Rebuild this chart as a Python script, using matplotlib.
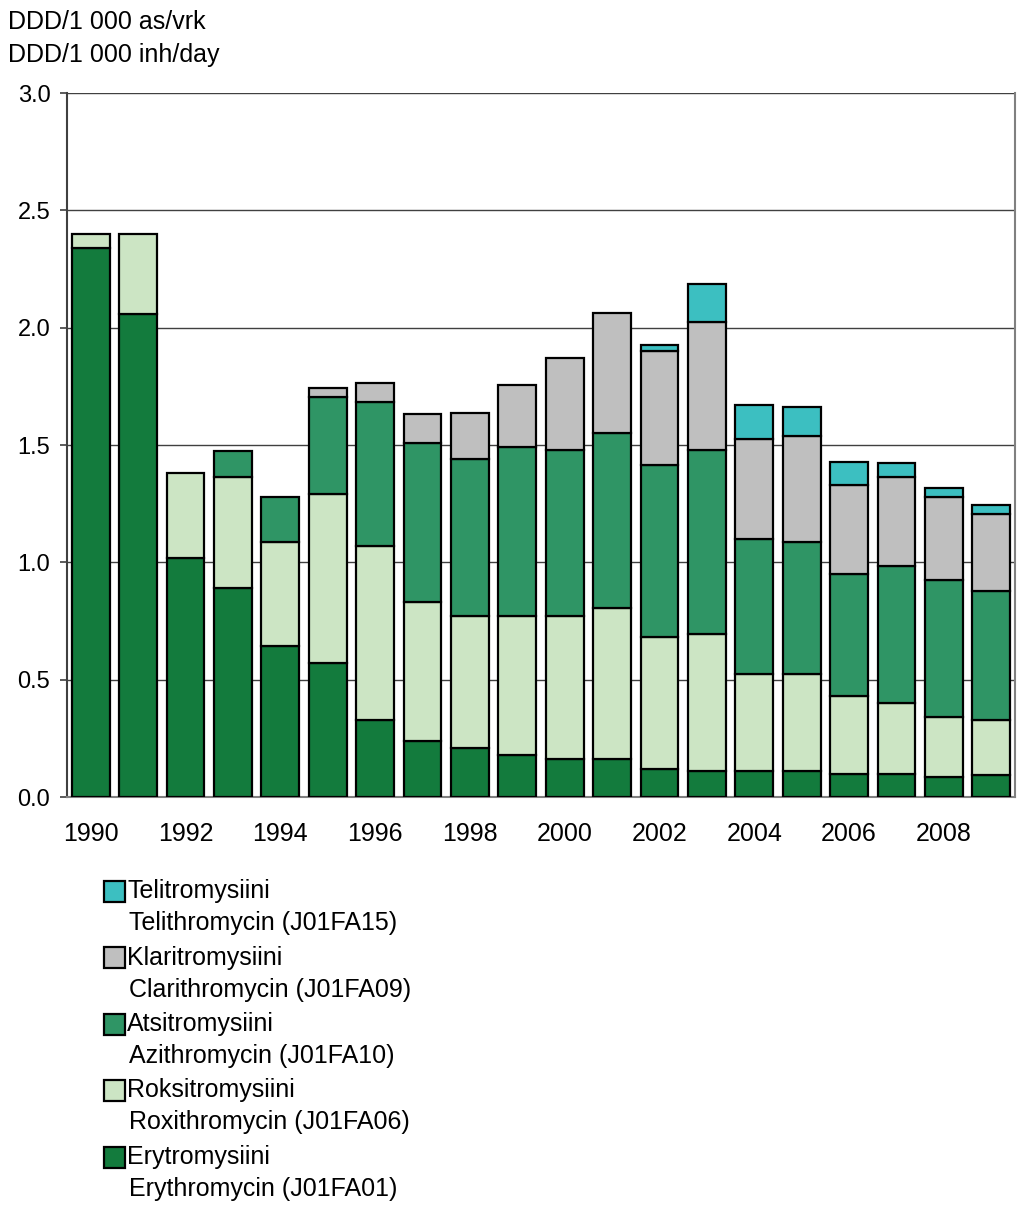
import matplotlib
matplotlib.use("Agg")
import matplotlib.pyplot as plt
import numpy as np
from matplotlib.patches import Rectangle

plt.rcParams['font.family'] = ['Liberation Sans', 'DejaVu Sans']

# Vuodet / years
years = list(range(1990, 2010))

# DDD/1000 inh/day, luettu kuvasta
erytro = [2.34, 2.06, 1.02, 0.89, 0.645, 0.57, 0.33, 0.24, 0.21, 0.18,
          0.16, 0.16, 0.12, 0.11, 0.11, 0.11, 0.10, 0.10, 0.085, 0.095]
roksi = [0.06, 0.34, 0.36, 0.475, 0.44, 0.72, 0.74, 0.59, 0.56, 0.59,
         0.61, 0.645, 0.56, 0.585, 0.415, 0.415, 0.33, 0.30, 0.255, 0.235]
atsi = [0, 0, 0, 0.11, 0.195, 0.413, 0.612, 0.68, 0.67, 0.72,
        0.71, 0.745, 0.735, 0.783, 0.574, 0.562, 0.522, 0.584, 0.584, 0.548]
klari = [0, 0, 0, 0, 0, 0.04, 0.084, 0.124, 0.196, 0.267,
         0.39, 0.511, 0.487, 0.547, 0.427, 0.453, 0.377, 0.379, 0.355, 0.33]
teli = [0, 0, 0, 0, 0, 0, 0, 0, 0, 0,
        0, 0, 0.024, 0.16, 0.146, 0.121, 0.099, 0.061, 0.037, 0.035]

series = [erytro, roksi, atsi, klari, teli]
colors = ['#137B3D', '#CCE5C4', '#2F9565', '#BFBFBF', '#3CBFC1']
labels = [("Erytromysiini", "Erythromycin (J01FA01)"),
          ("Roksitromysiini", "Roxithromycin (J01FA06)"),
          ("Atsitromysiini", "Azithromycin (J01FA10)"),
          ("Klaritromysiini", "Clarithromycin (J01FA09)"),
          ("Telitromysiini", "Telithromycin (J01FA15)")]

fig = plt.figure(figsize=(10.18, 12.05), dpi=100)
ax = fig.add_axes([67/1018, 1 - 797/1205, (1015-67)/1018, (797-93)/1205])

x = np.arange(len(years))
bottom = np.zeros(len(years))
for vals, col in zip(series, colors):
    v = np.array(vals)
    m = v > 0
    ax.bar(x[m], v[m], bottom=bottom[m], width=0.8, color=col,
           edgecolor='black', linewidth=1.6, zorder=3)
    bottom += v

ax.set_xlim(-0.5, len(years) - 0.5)
ax.set_ylim(0, 3.0)
ax.set_yticks(np.arange(0, 3.01, 0.5))
ax.set_yticklabels([f"{t:.1f}" for t in np.arange(0, 3.01, 0.5)], fontsize=17)
ax.set_xticks(x[::2])
ax.set_xticklabels([str(y) for y in years[::2]], fontsize=18)
ax.tick_params(axis='x', length=0, pad=18)
ax.tick_params(axis='y', length=5, width=1.2, color='#404040', pad=7)
ax.grid(axis='y', color='#404040', linewidth=1, zorder=0)
ax.set_axisbelow(True)
for s in ['left', 'bottom', 'right']:
    ax.spines[s].set_color('#808080')
    ax.spines[s].set_linewidth(1.5)
ax.spines['left'].set_color('#404040')
ax.spines['top'].set_visible(False)

fig.text(8/1018, 1 - 22/1205, "DDD/1 000 as/vrk", fontsize=18, va='center', ha='left')
fig.text(8/1018, 1 - 55/1205, "DDD/1 000 inh/day", fontsize=18, va='center', ha='left')

# Selite / legend (ylin sarja ensin)
y0 = 891
for i, (col, (fi, en)) in enumerate(zip(colors[::-1], labels[::-1])):
    yc = y0 + i * 66.5
    fig.patches.append(Rectangle((104/1018, 1 - (yc + 10.5)/1205), 21/1018, 21/1205,
                                 transform=fig.transFigure, facecolor=col,
                                 edgecolor='black', linewidth=1.6))
    fig.text(127/1018, 1 - yc/1205, fi, fontsize=18, va='center', ha='left')
    fig.text(129/1018, 1 - (yc + 32)/1205, en, fontsize=18, va='center', ha='left')

fig.savefig("out.png", dpi=100)
